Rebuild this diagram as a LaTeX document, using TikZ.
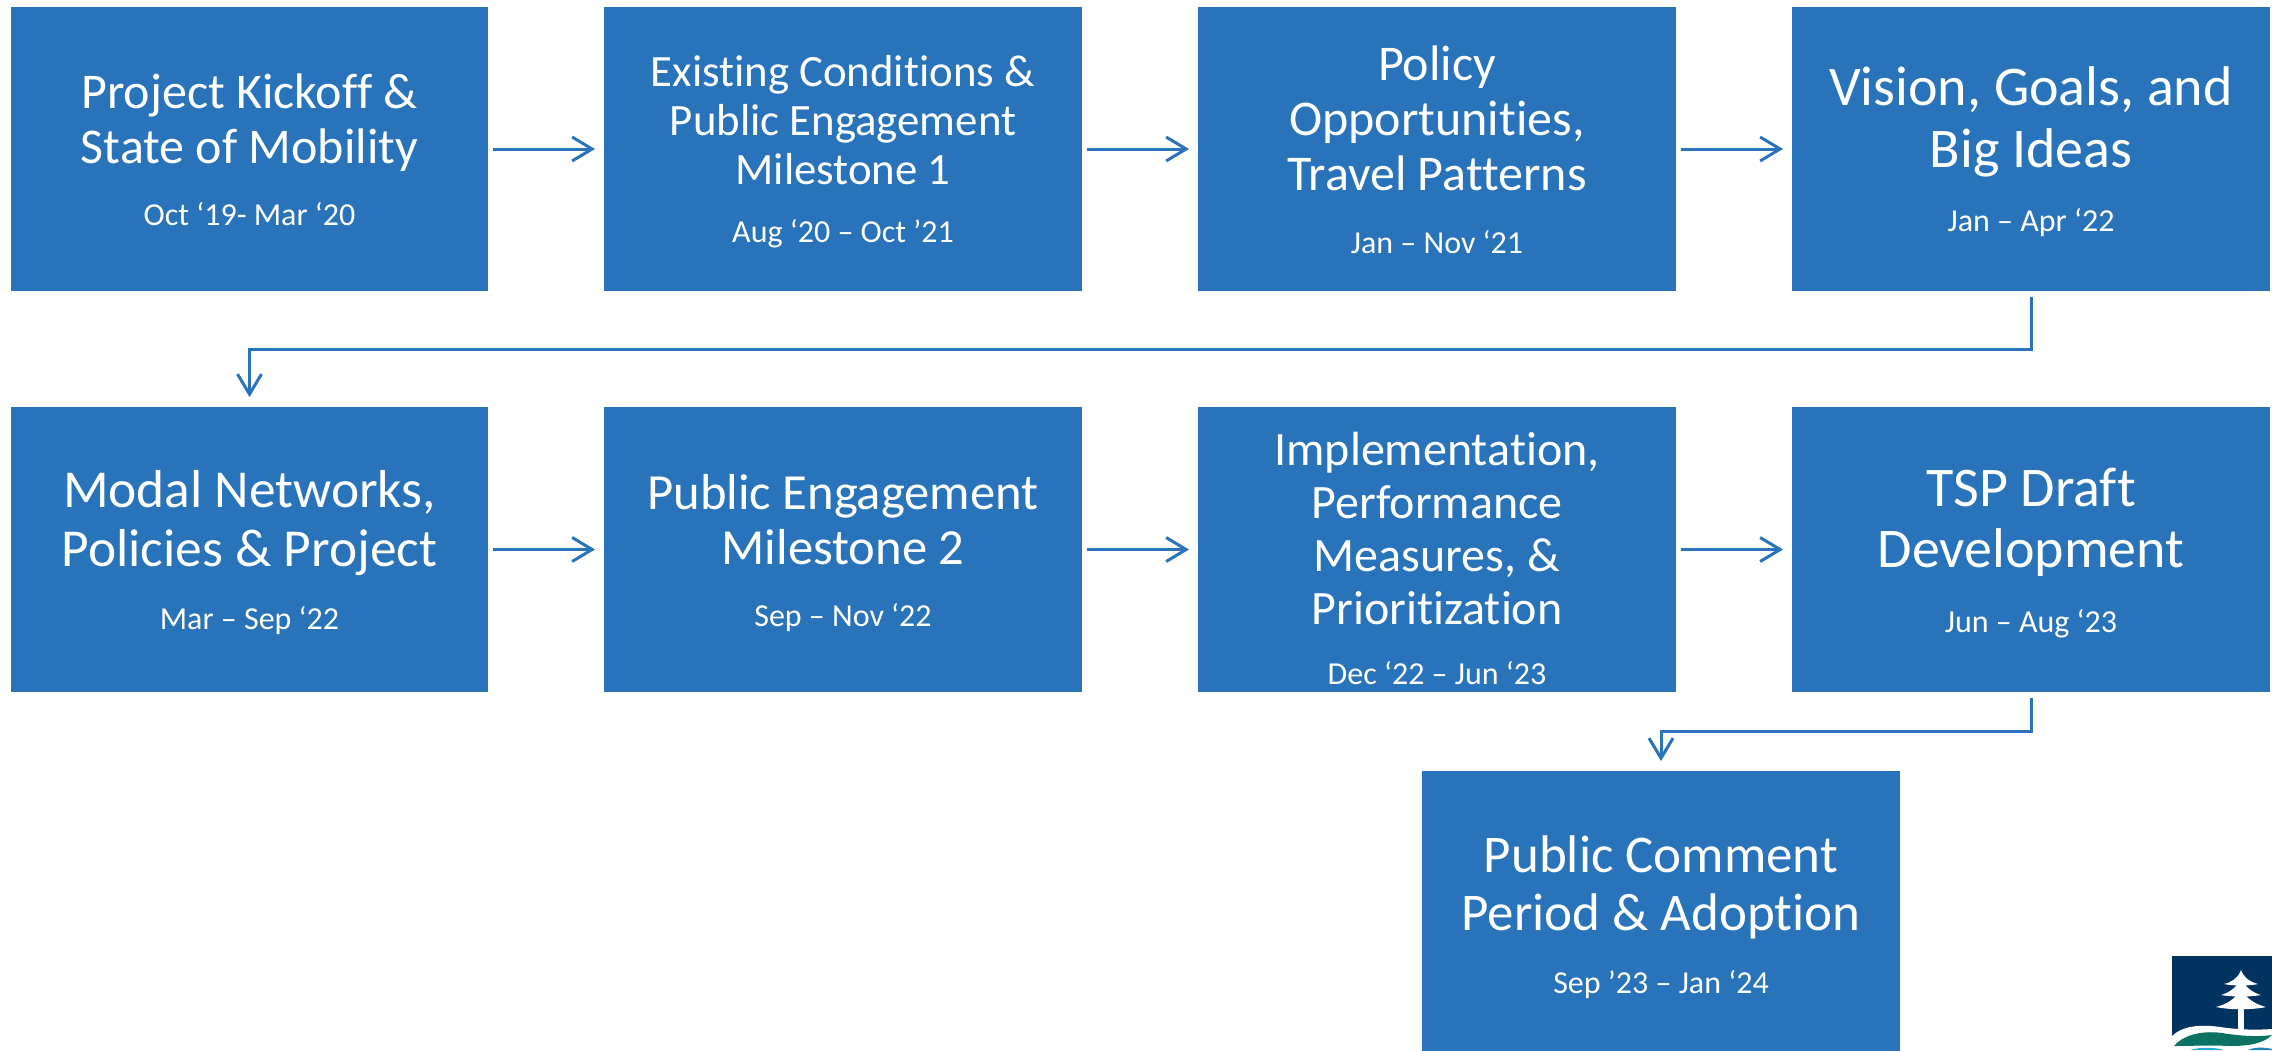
\documentclass[tikz,border=0pt]{standalone}
\usepackage{fontspec}
\setmainfont[Ligatures=NoCommon]{Carlito}
\usetikzlibrary{arrows.meta}
\definecolor{boxblue}{HTML}{2973BA}
\definecolor{navy}{HTML}{00335F}
\definecolor{logogreen}{HTML}{0B7263}
\definecolor{logocyan}{HTML}{2FA8DC}
\tikzset{
  x=1pt,y=-1pt,
  stage/.style={fill=boxblue,draw=none,inner sep=0pt,minimum width=477.5pt,minimum height=284.5pt},
  dte/.style={text=white,inner sep=0pt,font=\fontsize{#1}{#1}\selectfont},
  conn/.style={draw=boxblue,line width=3pt,-{Straight Barb[length=20pt,width=24pt,line width=3pt]},shorten >=9pt,shorten <=5pt},
}
\newcommand{\ttlnode}[6]{% name x y size pitch text
  \node[text=white,align=center,inner sep=0pt,font=\fontsize{#4}{#5}\selectfont] (#1) at (#2,#3) {#6};}
\begin{document}
\begin{tikzpicture}
\useasboundingbox (0,0) rectangle (2272,1050);
\begin{scope}
\clip (0,0) rectangle (2272,1050);
\node[stage] (b1) at (249.5,149) {};
\node[stage] (b2) at (843,149) {};
\node[stage] (b3) at (1437,149) {};
\node[stage] (b4) at (2031,149) {};
\node[stage] (b5) at (249.5,549.5) {};
\node[stage] (b6) at (843,549.5) {};
\node[stage] (b7) at (1437,549.5) {};
\node[stage] (b8) at (2031,549.5) {};
\node[stage] (b9) at (1661,913.5) {};
\end{scope}
\ttlnode{t1}{249.5}{122.5}{50}{55}{Project Kickoff \&\\State of Mobility}
\ttlnode{t2}{843}{120}{44.8}{49}{Existing Conditions \&\\Public Engagement\\Milestone 1}
\ttlnode{t3}{1437}{118}{50}{55}{Policy\\Opportunities,\\Travel Patterns}
\ttlnode{t4}{2031}{122}{56}{62}{Vision, Goals, and\\Big Ideas}
\ttlnode{t5}{249.5}{523.5}{53.4}{59}{Modal Networks,\\Policies \& Project}
\ttlnode{t6}{843}{520}{50.6}{55}{Public Engagement\\Milestone 2}
\ttlnode{t7}{1437}{529}{48}{53}{Implementation,\\Performance\\Measures, \&\\Prioritization}
\ttlnode{t8}{2031}{522.5}{56}{61}{TSP Draft\\Development}
\ttlnode{t9}{1661}{887}{53}{58}{Public Comment\\Period \& Adoption}
\node[dte=32] (d1) at (249.5,214.5) {Oct ‘19- Mar ‘20};
\node[dte=32] (d2) at (843,234) {Aug ‘20 – Oct ’21};
\node[dte=32] (d3) at (1437,242) {Jan – Nov ‘21};
\node[dte=32] (d4) at (2031,223) {Jan – Apr ‘22};
\node[dte=32] (d5) at (249.5,621) {Mar – Sep ‘22};
\node[dte=32] (d6) at (843,618) {Sep – Nov ‘22};
\node[dte=32] (d7) at (1437,673) {Dec ‘22 – Jun ‘23};
\node[dte=32] (d8) at (2031,624) {Jun – Aug ‘23};
\node[dte=32] (d9) at (1661,985) {Sep ’23 – Jan ‘24};
\draw[conn] (b1) -- (b2);
\draw[conn] (b2) -- (b3);
\draw[conn] (b3) -- (b4);
\draw[conn] (b5) -- (b6);
\draw[conn] (b6) -- (b7);
\draw[conn] (b7) -- (b8);
\draw[conn,shorten >=10pt,shorten <=6pt] (b4.south) -- (2031,349) -- (249.5,349) -- (b5.north);
\draw[conn,shorten >=10pt,shorten <=6pt] (b8.south) -- (2031,731) -- (1661,731) -- (b9.north);
% logo
\begin{scope}
\clip (2172,956) rectangle (2272,1050);
\fill[navy] (2172,956) rectangle (2272,1050);
\fill[white] (2238,1030) rectangle (2244,1000);
\fill[white] (2241,970) .. controls (2244,978) and (2250,982) .. (2258,984) .. controls (2250,986) and (2232,986) .. (2224,984) .. controls (2232,982) and (2238,978) .. (2241,970) -- cycle;
\fill[white] (2241,978) .. controls (2245,988) and (2254,993) .. (2261,995) .. controls (2250,997) and (2232,997) .. (2221,995) .. controls (2228,993) and (2237,988) .. (2241,978) -- cycle;
\fill[white] (2241,988) .. controls (2246,1000) and (2258,1005) .. (2266,1007) .. controls (2252,1010) and (2230,1010) .. (2216,1007) .. controls (2224,1005) and (2236,1000) .. (2241,988) -- cycle;
\fill[white] (2172,1036) .. controls (2182,1026) and (2200,1024) .. (2220,1027) .. controls (2240,1030) and (2258,1030) .. (2272,1029) -- (2272,1050) -- (2172,1050) -- cycle;
\fill[logogreen] (2174,1046) .. controls (2182,1036) and (2200,1030) .. (2222,1033) .. controls (2240,1036) and (2258,1037) .. (2272,1035) .. controls (2264,1043) and (2250,1046) .. (2230,1046) .. controls (2210,1045) and (2190,1046) .. (2174,1046) -- cycle;
\fill[logocyan] (2190,1050) .. controls (2200,1047) and (2214,1047) .. (2224,1050) -- cycle;
\fill[logocyan!70!navy] (2248,1050) .. controls (2254,1047) and (2264,1047) .. (2272,1049) -- (2272,1050) -- cycle;
\end{scope}
\end{tikzpicture}
\end{document}
